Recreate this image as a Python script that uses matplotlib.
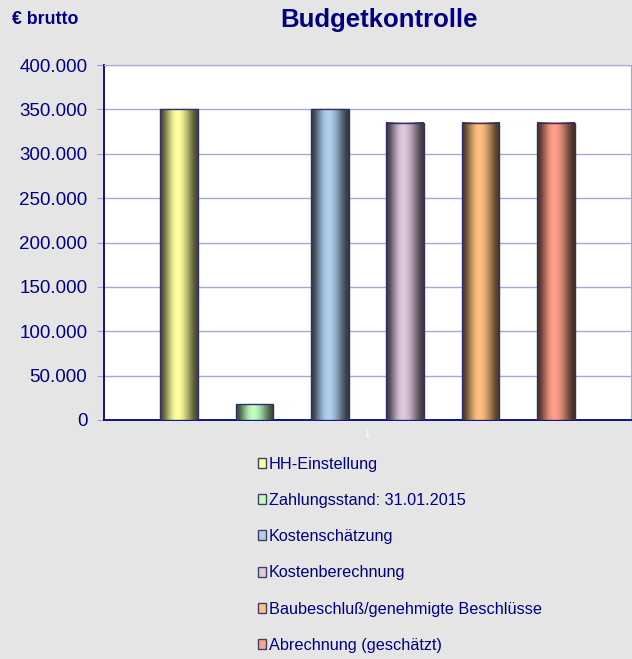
import numpy as np
import matplotlib
matplotlib.use('Agg')
import matplotlib.pyplot as plt
from matplotlib.patches import Rectangle, Patch
from matplotlib.ticker import FuncFormatter

plt.rcParams['font.family'] = ['Liberation Sans', 'DejaVu Sans']

# data
labels = ['HH-Einstellung', 'Zahlungsstand: 31.01.2015', 'Kostenschätzung',
          'Kostenberechnung', 'Baubeschluß/genehmigte Beschlüsse',
          'Abrechnung (geschätzt)']
values = [350000, 17700, 350000, 335000, 335000, 335000]
colors = ['#ffffa0', '#c0ffc0', '#b0d0f0', '#e0c8e0', '#ffc080', '#ffa088']

navy = '#000080'
bg = '#e5e5e5'

fig = plt.figure(figsize=(6.32, 6.59), dpi=100, facecolor=bg)
ax = fig.add_axes([104 / 632, 1 - 420 / 659, 527 / 632, 355 / 659])
ax.set_facecolor('white')

# shading profile across a bar (cylinder look): dark edges, bright near centre
t = np.linspace(0, 1, 80)
peak = 0.45
u = np.where(t < peak, t / peak, (1 - t) / (1 - peak))
shade = 0.28 + 0.72 * np.sin(np.pi / 2 * u) ** 1.6

width = 0.5
for i, (v, c) in enumerate(zip(values, colors)):
    x = i + 1
    rgb = np.array(matplotlib.colors.to_rgb(c))
    img = (shade[:, None] * rgb[None, :])[None, :, :]
    ax.imshow(img, extent=[x - width / 2, x + width / 2, 0, v],
              aspect='auto', zorder=3, interpolation='bilinear')
    ax.add_patch(Rectangle((x - width / 2, 0), width, v, fill=False,
                           edgecolor='#303070', lw=1, zorder=4))

ax.set_xlim(0, 7)
ax.set_ylim(0, 400000)
ax.set_yticks(np.arange(0, 400001, 50000))
ax.yaxis.set_major_formatter(FuncFormatter(lambda v, p: f'{int(v):,}'.replace(',', '.')))
ax.tick_params(axis='y', colors=navy, labelsize=13.5, length=5, pad=7, color='#a0a0d0')
ax.set_xticks([])
ax.grid(axis='y', color='#a8a8d8', lw=1, zorder=1)
ax.set_axisbelow(True)
for s in ['top', 'right']:
    ax.spines[s].set_color('#a8a8d8')
for s in ['left', 'bottom']:
    ax.spines[s].set_color(navy)
    ax.spines[s].set_linewidth(1.3)

fig.text(367 / 632, 1 - 434 / 659, '1', color='white', fontsize=7, ha='center', va='center')

fig.text(379 / 632, 1 - 20 / 659, 'Budgetkontrolle', color=navy, fontsize=18.5,
         fontweight='bold', ha='center', va='center')
fig.text(12 / 632, 1 - 20 / 659, '€ brutto', color=navy, fontsize=12.8,
         fontweight='bold', ha='left', va='center')

handles = [Patch(facecolor=c, edgecolor='#404060', lw=1) for c in colors]
leg = fig.legend(handles, labels, loc='upper left',
                 bbox_to_anchor=(251 / 632, 1 - 450 / 659), frameon=False,
                 fontsize=11.7, labelspacing=1.31, handlelength=0.55,
                 handleheight=0.55, handletextpad=0.15, borderaxespad=0)
for txt in leg.get_texts():
    txt.set_color(navy)

fig.savefig('out.png', dpi=100, facecolor=bg)
